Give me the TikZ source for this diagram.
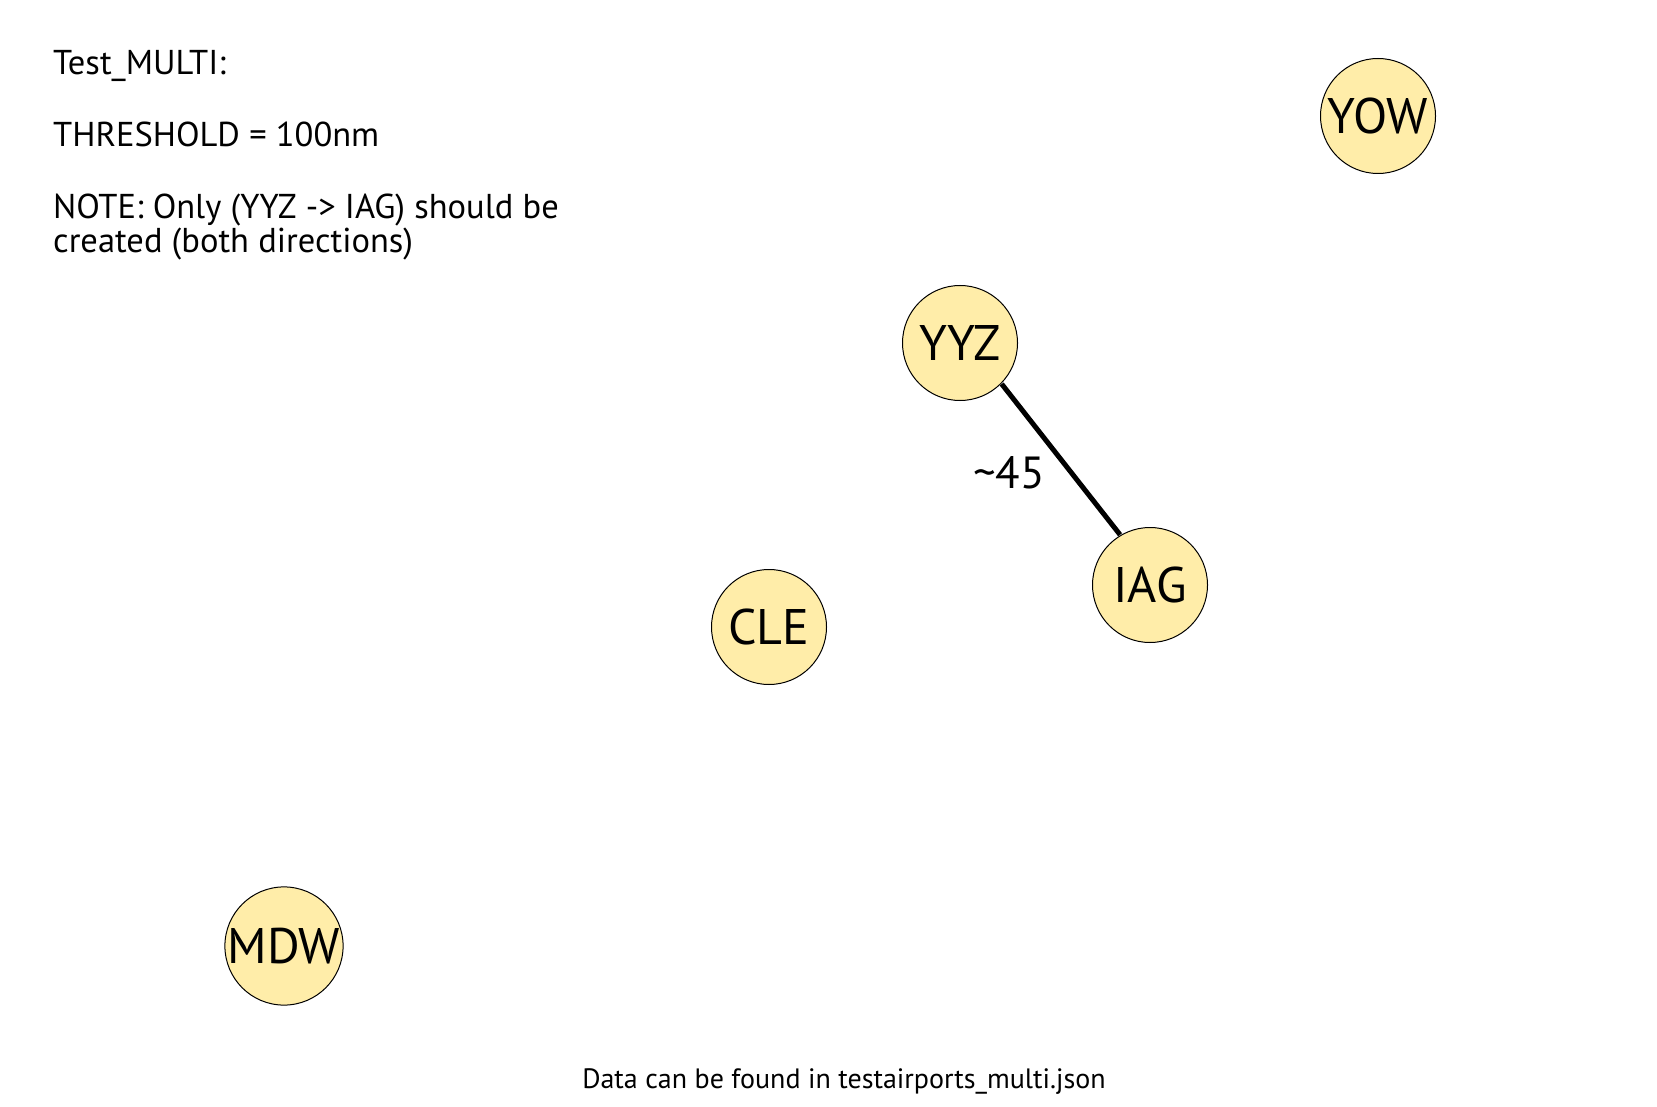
\documentclass[tikz,border=0pt]{standalone}
\usepackage{fontspec}
\setmainfont{PT Sans}
\definecolor{nodefill}{HTML}{FFEDA9}
\tikzset{
  airport/.style={circle, draw=black, line width=1pt, fill=nodefill, minimum size=115pt, inner sep=0pt, font=\fontsize{50}{56}\selectfont},
  route/.style={line width=5pt, black},
  note/.style={anchor=base west, inner sep=0pt, font=\fontsize{34.5}{40}\selectfont},
}
\begin{document}
\begin{tikzpicture}[x=1pt,y=-1pt]
\useasboundingbox (0,0) rectangle (1657,1107);
\fill[white] (0,0) rectangle (1657,1107);
\node[airport] (YOW) at (1378,116) {YOW};
\node[airport] (YYZ) at (960,343) {YYZ};
\node[airport] (IAG) at (1150,585) {IAG};
\node[airport] (CLE) at (769,627) {CLE};
\node[airport] (MDW) at (284,946) {MDW};
\draw[route, transform canvas={xshift=5.9pt, yshift=4.6pt}] (YYZ) -- (IAG);
\node[anchor=base west, inner sep=0pt, font=\fontsize{45}{50}\selectfont] (lbl) at (973,488) {\textasciitilde 45};
\node[note] (t1) at (53,75) {Test\_MULTI:};
\node[note] (t2) at (53,147) {THRESHOLD = 100nm};
\node[note] (t3) at (53,219) {NOTE: Only (YYZ -> IAG) should be};
\node[note] (t4) at (53,253) {created (both directions)};
\node[anchor=base, inner sep=0pt, font=\fontsize{28}{33}\selectfont] (foot) at (844,1088) {Data can be found in testairports\_multi.json};
\end{tikzpicture}
\end{document}
